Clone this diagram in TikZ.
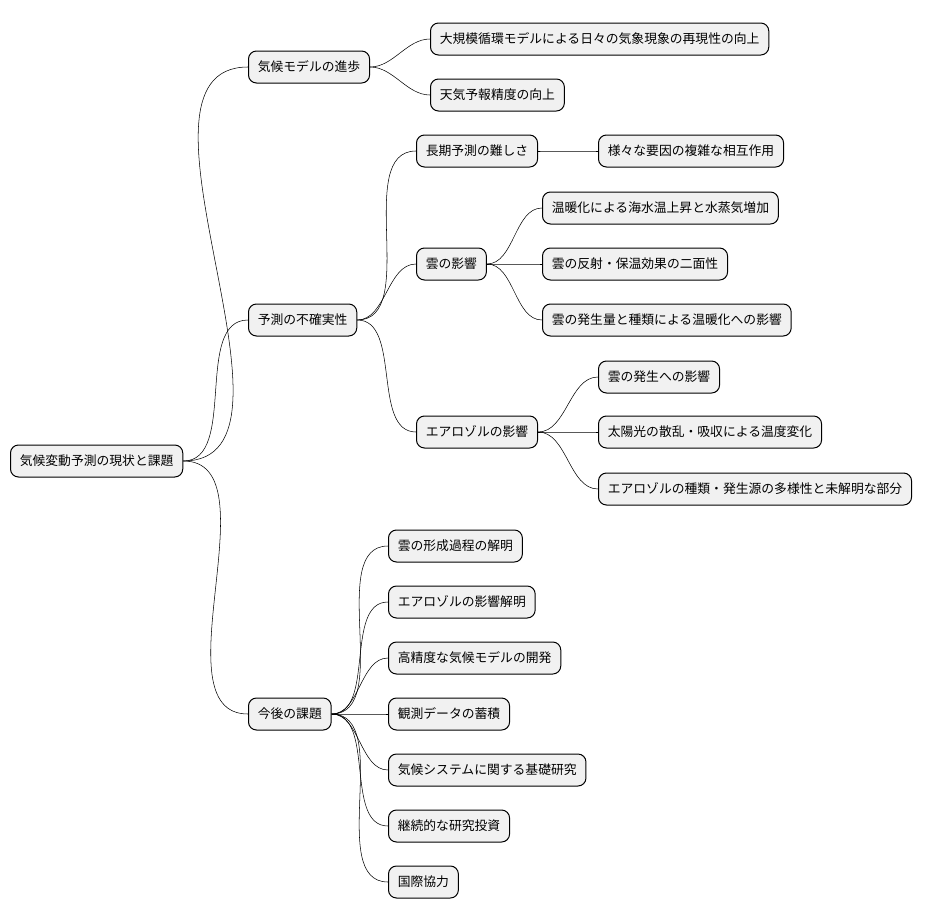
\documentclass[tikz,border=0pt]{standalone}
\usepackage{fontspec}
\newfontfamily\cjk{Noto Sans CJK JP}
\begin{document}
\begin{tikzpicture}[x=0.75pt,y=-0.75pt,
  box/.style={draw=black,line width=0.75pt,fill={rgb,255:red,241;green,241;blue,241},rounded corners=6pt,
    minimum height=24pt,inner xsep=7pt,anchor=west,font=\cjk\fontsize{9.6}{12}\selectfont},
  ln/.style={line width=0.6pt,out=0,in=180,looseness=0.9}]
\useasboundingbox (0,0) rectangle (950,921);
\node[box] (r) at (10,461) {気候変動予測の現状と課題};
\node[box] (a) at (248,67) {気候モデルの進歩};
\node[box] (b) at (248,320) {予測の不確実性};
\node[box] (c) at (248,714) {今後の課題};
\node[box] (a1) at (430,39) {大規模循環モデルによる日々の気象現象の再現性の向上};
\node[box] (a2) at (430,95) {天気予報精度の向上};
\node[box] (b1) at (416,151) {長期予測の難しさ};
\node[box] (b2) at (416,264) {雲の影響};
\node[box] (b3) at (416,432) {エアロゾルの影響};
\node[box] (b11) at (598,151) {様々な要因の複雑な相互作用};
\node[box] (b21) at (542,208) {温暖化による海水温上昇と水蒸気増加};
\node[box] (b22) at (542,264) {雲の反射・保温効果の二面性};
\node[box] (b23) at (542,320) {雲の発生量と種類による温暖化への影響};
\node[box] (b31) at (598,377) {雲の発生への影響};
\node[box] (b32) at (598,432) {太陽光の散乱・吸収による温度変化};
\node[box] (b33) at (598,489) {エアロゾルの種類・発生源の多様性と未解明な部分};
\node[box] (c1) at (388,546) {雲の形成過程の解明};
\node[box] (c2) at (388,602) {エアロゾルの影響解明};
\node[box] (c3) at (388,658) {高精度な気候モデルの開発};
\node[box] (c4) at (388,714) {観測データの蓄積};
\node[box] (c5) at (388,770) {気候システムに関する基礎研究};
\node[box] (c6) at (388,826) {継続的な研究投資};
\node[box] (c7) at (388,882) {国際協力};
\foreach \p/\c in {r/a,r/b,r/c,a/a1,a/a2,b/b1,b/b2,b/b3,b1/b11,b2/b21,b2/b22,b2/b23,b3/b31,b3/b32,b3/b33,c/c1,c/c2,c/c3,c/c4,c/c5,c/c6,c/c7}
  \draw (\p.east) to[ln] (\c.west);
\end{tikzpicture}
\end{document}
